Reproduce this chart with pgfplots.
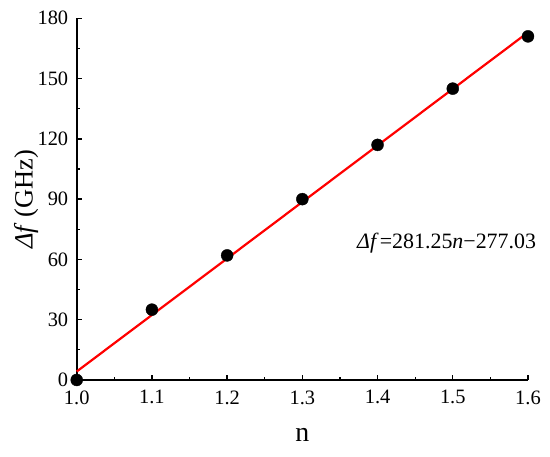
\documentclass[border=0pt]{standalone}
\usepackage{pgfplots}
\pgfplotsset{compat=1.18}
\usepackage{fontspec}
\setmainfont{Liberation Serif}
\begin{document}
\begin{tikzpicture}[x=1bp,y=1bp]
\begin{axis}[
  scale only axis,
  width=451.3bp, height=361.7bp,
  xmin=1.0, xmax=1.6, ymin=0, ymax=180,
  axis x line=bottom, axis y line=left,
  axis line style={-, line width=1.6bp},
  xtick={1.0,1.1,...,1.6},
  ytick={0,30,...,180},
  minor x tick num=1, minor y tick num=1,
  tick align=inside,
  major tick length=5bp, minor tick length=3bp,
  tick style={line width=1.3bp, black},
  xticklabel style={/pgf/number format/fixed, /pgf/number format/fixed zerofill, /pgf/number format/precision=1, yshift=-7bp},
  yticklabel style={xshift=-5bp},
  /pgf/number format/assume math mode=true,
  tick label style={font=\fontsize{20.5}{22}\selectfont},
  xlabel={n},
  ylabel={{\itshape Δf\,}\,(GHz)},
  xlabel style={font=\fontsize{28}{30}\selectfont, at={(axis description cs:0.5,-0.152)}, anchor=center},
  ylabel style={font=\fontsize{26.5}{28}\selectfont, at={(axis description cs:-0.112,0.5)}, anchor=center},
  clip=false,
]
\path (rel axis cs:-0.170,-0.2129) rectangle (rel axis cs:1.0488,1.0506);
\addplot[red, line width=2.2bp] coordinates {(1.0,4.22) (1.6,172.97)};
\addplot[only marks, mark=*, mark size=6bp, black] coordinates {
(1.0,0) (1.1,35) (1.2,62) (1.3,90) (1.4,117) (1.5,145) (1.6,171)};
\node[anchor=east, font=\fontsize{22}{24}\selectfont, inner sep=0pt] at (axis cs:1.611,68) {{\itshape Δf\,}=281.25{\itshape n}−277.03};
\end{axis}
\end{tikzpicture}
\end{document}
